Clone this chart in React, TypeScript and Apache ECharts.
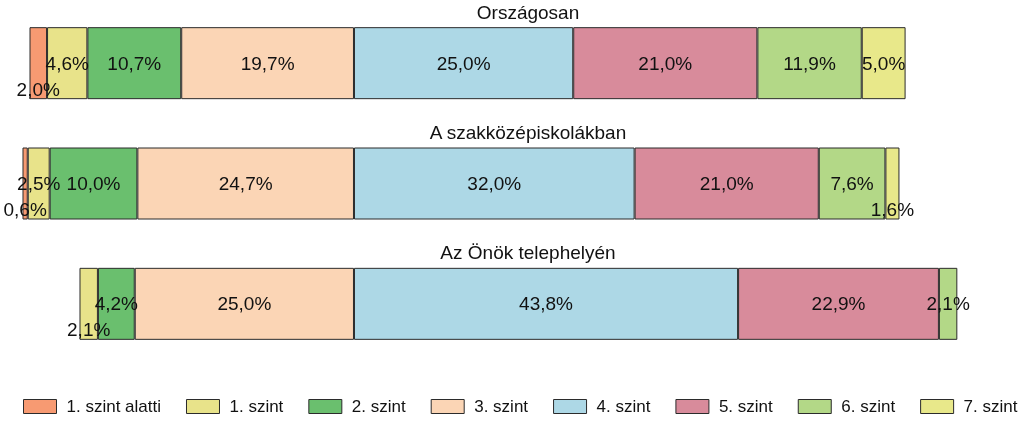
import React, { useEffect, useRef } from "react";
import * as echarts from "echarts";

const categories = ["Országosan", "A szakközépiskolákban", "Az Önök telephelyén"];
const levels = ["1. szint alatti", "1. szint", "2. szint", "3. szint", "4. szint", "5. szint", "6. szint", "7. szint"];
const belowLevel1 = [2.0, 0.6, 0];
const level1 = [4.6, 2.5, 2.1];
const level2 = [10.7, 10.0, 4.2];
const level3 = [19.7, 24.7, 25.0];
const level4 = [25.0, 32.0, 43.8];
const level5 = [21.0, 21.0, 22.9];
const level6 = [11.9, 7.6, 2.1];
const level7 = [5.0, 1.6, 0];

const levelValues = [belowLevel1, level1, level2, level3, level4, level5, level6, level7];
const colors = ["#F79A72", "#E8E38A", "#6ABF6E", "#FBD5B5", "#ADD8E6", "#D88B9B", "#B3D887", "#E8E88A"];
// labels placed lower in the bar (level index, row index)
const loweredLabels = [[0, 0], [0, 1], [7, 1], [1, 2]];

const FONT = "'Liberation Sans', Arial, sans-serif";

const fmt = (v: number) => Math.abs(v).toFixed(1).replace(".", ",") + "%";

export default function App() {
  const ref = useRef<HTMLDivElement>(null);
  useEffect(() => {
    if (!ref.current) return;
    const chart = echarts.init(ref.current, undefined, { renderer: "svg" });
    const order = [3, 2, 1, 0, 4, 5, 6, 7];
    const series = order.map((li) => ({
      type: "bar",
      name: levels[li],
      stack: "total",
      barWidth: 72,
      itemStyle: { color: colors[li], borderColor: "#2b2b2b", borderWidth: 1 },
      label: {
        show: true,
        position: "inside",
        color: "#111",
        fontSize: 19,
        fontFamily: FONT,
        formatter: (p: any) => fmt(p.value),
      },
      data: levelValues[li].map((v, row) => {
        if (!v) return "-";
        const val = li < 4 ? -v : v;
        const lowered = loweredLabels.some(([l, r]) => l === li && r === row);
        return lowered ? { value: val, label: { offset: [0, 26] } } : { value: val };
      }),
    }));
    chart.setOption({
      animation: false,
      grid: { left: 3.2, width: 1008.5, top: 3, height: 361 },
      xAxis: { type: "value", min: -40, max: 75, show: false },
      yAxis: { type: "category", data: categories, inverse: true, show: false },
      legend: {
        data: levels,
        left: 18,
        top: 393,
        itemWidth: 33,
        itemHeight: 14,
        itemGap: 25,
        icon: "rect",
        itemStyle: { borderColor: "#2b2b2b", borderWidth: 1 },
        textStyle: { fontSize: 17, fontFamily: FONT, color: "#111", padding: [0, 0, 0, 5] },
      },
      graphic: categories.map((c, i) => ({
        type: "text",
        x: 528,
        y: 12 + i * 120,
        style: { text: c, font: `19px ${FONT}`, fill: "#111", textAlign: "center", textVerticalAlign: "middle" },
      })),
      series,
    });
    return () => chart.dispose();
  }, []);
  return <div ref={ref} style={{ position: "fixed", left: 0, top: 0, width: 1024, height: 423 }} />;
}
